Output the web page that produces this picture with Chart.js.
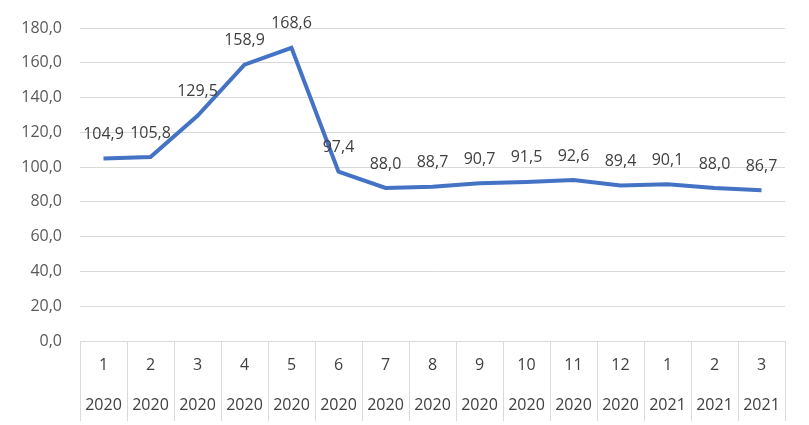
<!DOCTYPE html>
<html>
<head>
<meta charset="utf-8">
<script src="https://cdn.jsdelivr.net/npm/chart.js@4/dist/chart.umd.min.js"></script>
<style>
  html, body { margin: 0; padding: 0; background: #fff; }
  #wrap { width: 809px; height: 425px; }
</style>
</head>
<body>
<div id="wrap"><canvas id="lineChart"></canvas></div>
<script>
const months = ['1', '2', '3', '4', '5', '6', '7', '8', '9', '10', '11', '12', '1', '2', '3'];
const years = ['2020', '2020', '2020', '2020', '2020', '2020', '2020', '2020', '2020', '2020', '2020', '2020', '2021', '2021', '2021'];
const values = [104.9, 105.8, 129.5, 158.9, 168.6, 97.4, 88.0, 88.7, 90.7, 91.5, 92.6, 89.4, 90.1, 88.0, 86.7];

const fmt = v => v.toFixed(1).replace('.', ',');
const fontFamily = "'Open Sans', 'DejaVu Sans', sans-serif";

// labels above each point
const valueLabels = {
  id: 'valueLabels',
  afterDatasetsDraw(chart) {
    const ctx = chart.ctx;
    const meta = chart.getDatasetMeta(0);
    ctx.save();
    ctx.font = `16px ${fontFamily}`;
    ctx.fillStyle = '#404040';
    ctx.textAlign = 'center';
    ctx.textBaseline = 'middle';
    meta.data.forEach((pt, i) => {
      ctx.fillText(fmt(values[i]), pt.x, pt.y - 24);
    });
    ctx.restore();
  }
};

const ctx = document.getElementById('lineChart').getContext('2d');
window.lineChart = new Chart(ctx, {
  type: 'line',
  data: {
    labels: months.map((m, i) => [m, years[i]]),
    datasets: [{
      data: values,
      borderColor: '#4472C4',
      borderWidth: 4,
      pointRadius: 0,
      tension: 0,
      fill: false
    }]
  },
  options: {
    responsive: true,
    maintainAspectRatio: false,
    animation: false,
    layout: { padding: { top: 28, right: 24, left: 0, bottom: 0 } },
    plugins: {
      legend: { display: false },
      tooltip: { enabled: false }
    },
    scales: {
      x: {
        offset: true,
        grid: {
          offset: true,
          drawOnChartArea: false,
          tickLength: 80,
          color: '#d9d9d9'
        },
        border: { display: false },
        ticks: {
          autoSkip: false,
          maxRotation: 0,
          padding: -76,
          color: '#404040',
          font: { family: fontFamily, size: 16, lineHeight: 2.5 }
        },
        afterFit: scale => { scale.height = 84; }
      },
      y: {
        min: 0,
        max: 180,
        ticks: {
          stepSize: 20,
          padding: 18,
          color: '#595959',
          font: { family: fontFamily, size: 16 },
          callback: v => fmt(v)
        },
        grid: { color: '#d9d9d9', drawTicks: false },
        border: { display: false },
        afterFit: scale => { scale.width = 80; }
      }
    }
  },
  plugins: [valueLabels]
});
</script>
</body>
</html>
